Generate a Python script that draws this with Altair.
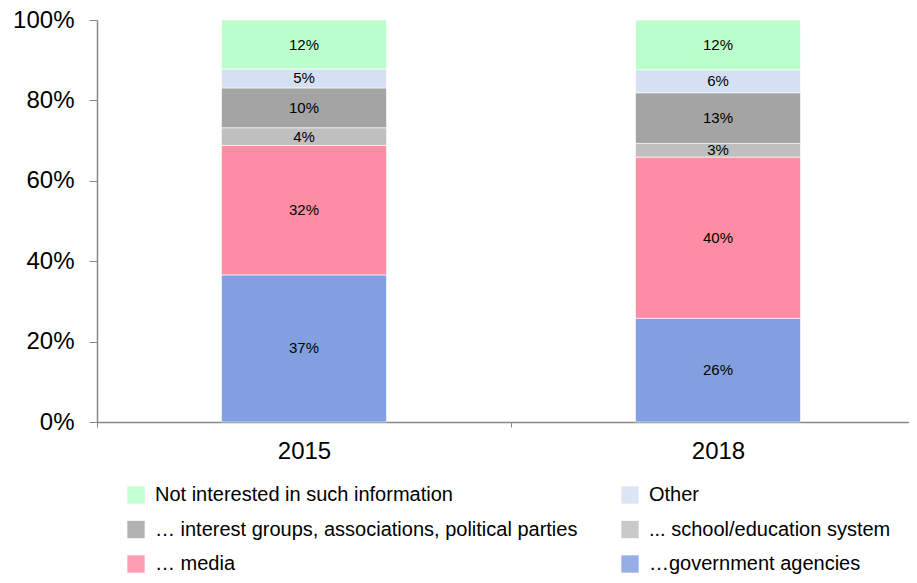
import altair as alt
import pandas as pd

years = ["2015", "2018"]
# stack order bottom -> top
categories = [
    "…government agencies",
    "…  media",
    "... school/education system",
    "… interest groups, associations, political parties",
    "Other",
    "Not interested in such information",
]
colors = ["#82A0E0", "#FF8DA4", "#BFBFBF", "#A4A4A4", "#D6E0F4", "#BBFFCC"]
values_2015 = [36.6, 32.2, 4.4, 9.9, 4.7, 12.2]
values_2018 = [25.8, 40.1, 3.4, 12.6, 5.7, 12.4]

rows = []
for yr, vals in zip(years, [values_2015, values_2018]):
    for i, (c, v) in enumerate(zip(categories, vals)):
        rows.append({"year": yr, "cat": c, "value": v, "ord": i})
df = pd.DataFrame(rows)

# legend is filled column by column
legend_idx = [5, 3, 1, 4, 2, 0]
legend_order = [categories[i] for i in legend_idx]
legend_colors = [colors[i] for i in legend_idx]

FONT = "Liberation Sans, Arial, sans-serif"

# the category axis runs a little past the right edge of the picture
xscale = alt.Scale(paddingInner=0, paddingOuter=0, range=[0, 828])

base = alt.Chart(df)

x_enc = alt.X(
    "year:N",
    title=None,
    scale=xscale,
    axis=alt.Axis(
        labelAngle=0, labelFontSize=24, labelFont=FONT, labelColor="#000000",
        domainColor="#888888", domainWidth=1.5, tickColor="#888888",
        tickSize=5, tickBand="extent", labelPadding=12,
    ),
)

bars = base.mark_bar(stroke="white", strokeWidth=0.6, size=165).encode(
    x=x_enc,
    y=alt.Y(
        "value:Q", stack="zero", title=None,
        scale=alt.Scale(domain=[0, 100], nice=False),
        axis=alt.Axis(
            values=[0, 20, 40, 60, 80, 100], labelExpr="datum.value + '%'",
            labelFontSize=24, labelFont=FONT, labelColor="#000000",
            domainColor="#888888", domainWidth=1.5, tickColor="#888888",
            tickSize=8, labelPadding=15, grid=False,
        ),
    ),
    color=alt.Color(
        "cat:N",
        scale=alt.Scale(domain=legend_order, range=legend_colors),
        legend=alt.Legend(
            title=None, orient="none", legendX=29, legendY=465, columns=2,
            columnPadding=42, rowPadding=14.5, symbolType="square", symbolSize=300,
            symbolStrokeWidth=0, symbolOpacity=0.85, labelFontSize=20, labelFont=FONT,
            labelColor="#000000", labelLimit=0, labelOffset=9,
        ),
    ),
    order=alt.Order("ord:Q", sort="ascending"),
)

labels = base.transform_stack(
    stack="value", groupby=["year"], as_=["v0", "v1"], sort=[alt.SortField("ord", "ascending")]
).transform_calculate(
    mid="(datum.v0 + datum.v1) / 2", lab="round(datum.value) + '%'"
).mark_text(fontSize=15, font=FONT, color="#000000").encode(
    x=alt.X("year:N", scale=xscale),
    y=alt.Y("mid:Q"),
    text="lab:N",
)

chart = alt.layer(bars, labels).properties(
    width=812, height=402,
    autosize=alt.AutoSizeParams(type="none"),
    padding={"left": 89, "top": 12, "right": 0, "bottom": 153},
).configure_view(stroke=None)

chart.save("out.html", embed_options={"renderer": "svg", "actions": False})
